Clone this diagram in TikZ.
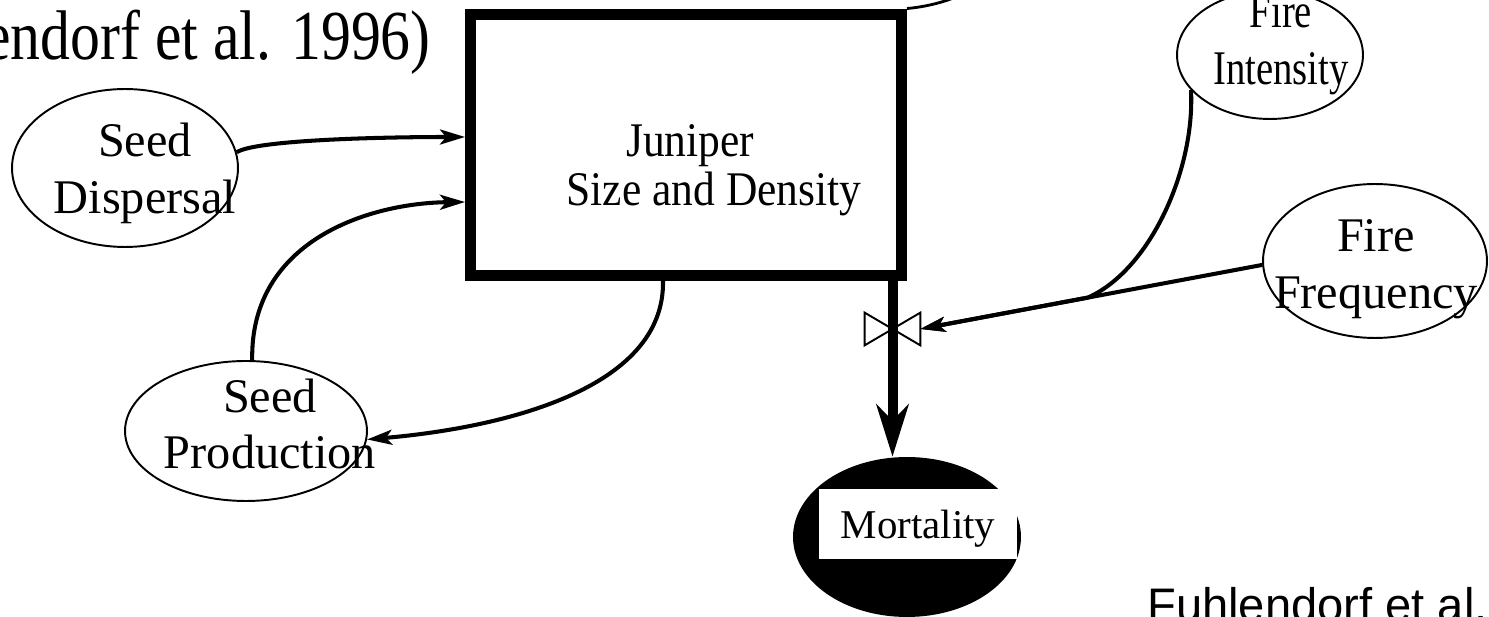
\documentclass[tikz,border=0pt]{standalone}
\usepackage{fontspec}
\setmainfont{Liberation Serif}
\newfontfamily\arialfont{Liberation Sans}
\newfontfamily\juniperfont{Liberation Serif}[FakeStretch=0.9]
\newfontfamily\narrowfont{Liberation Serif}[FakeStretch=0.8]
\newfontfamily\titlefont{Liberation Serif}[FakeStretch=0.85]
\usetikzlibrary{arrows.meta,calc,positioning,shapes.geometric}

\begin{document}
\begin{tikzpicture}[x=.02cm,y=-.02cm,font=\fontsize{27.5}{32.4}\selectfont,
    >={Stealth[length=.5cm,width=.3cm,inset=.12cm]},
    pool/.style={draw,ellipse,line width=1.1pt,inner sep=0pt},
    stock/.style={draw,line width=.22cm,minimum width=8.62cm,minimum height=5.23cm},
    link/.style={->,line width=2.3pt},
    flow/.style={line width=.2cm,-{Stealth[length=1.04cm,width=.64cm,inset=.32cm]}}]
    \useasboundingbox (0,0) rectangle (1489,617);
    \node[anchor=base east,inner sep=0pt,font=\titlefont\fontsize{40}{48}\selectfont] (src) at (431,60) {endorf et al. 1996)};
    \node[stock] (jun) at (686,144.75) {};
    \node[align=center,font=\juniperfont\fontsize{27.5}{28}\selectfont] (junlbl) at (714,170) {Juniper\hspace*{.95cm}\\Size and Density};
    \node[pool,minimum width=4.52cm,minimum height=3.16cm] (disp) at (125,168) {};
    \node[align=center] (displbl) at (145,173.5) {Seed\\Dispersal};
    \node[pool,minimum width=4.84cm,minimum height=2.8cm] (prod) at (246,431) {};
    \node[align=center] (prodlbl) at (270,424) {Seed\\Production};
    \node[pool,minimum width=3.72cm,minimum height=2.56cm] (inten) at (1270,55) {};
    \node[align=center,font=\narrowfont\fontsize{27.5}{32.4}\selectfont] (intenlbl) at (1281,45.5) {Fire\\Intensity};
    \node[pool,minimum width=4.48cm,minimum height=3.08cm] (freq) at (1375,261) {};
    \node[align=center] (freqlbl) at (1376,269.5) {Fire\\Frequency};
    \node[ellipse,fill=black,minimum width=4.56cm,minimum height=3.2cm] (mort) at (907,537) {};
    \node[fill=white,minimum width=3.96cm,minimum height=1.4cm,text depth=0pt,font=\fontsize{23.3}{28}\selectfont] (mortlbl) at (918,524) {Mortality};
    \node[minimum width=1.1cm,minimum height=.64cm,inner sep=0pt] (valve) at (892.5,329) {};
    \draw[line width=1.1pt,fill=white] (valve.north west)--(valve.south east)--(valve.north east)--(valve.south west)--cycle;
    \draw[flow] (valve |- jun.south) -- (valve |- mort.north);
    \draw[line width=1.6pt] (jun.north east) .. controls (925,7) and (945,2) .. (958,-4);
    \draw[link] (disp.8) .. controls (255,140) and (380,137) .. (jun.west |- 0,137);
    \draw[link] (prod.85) .. controls (250,240) and (370,203) .. (jun.west |- 0,202);
    \draw[link] (jun.south -| 663,0) .. controls (665,390) and (500,428) .. (prod.-4);
    \coordinate (merge) at ($(valve.east)!.49!(freq.182)$);
    \draw[link] (inten.204) .. controls (1195,170) and (1150,270) .. (merge) -- (valve.east);
    \draw[link] (freq.182) -- (valve.east);
    \node[anchor=north west,inner sep=0pt,font=\arialfont\fontsize{26.8}{32}\selectfont] (cite) at (1147,587) {Fuhlendorf et al.};
  \end{tikzpicture}
\end{document}
